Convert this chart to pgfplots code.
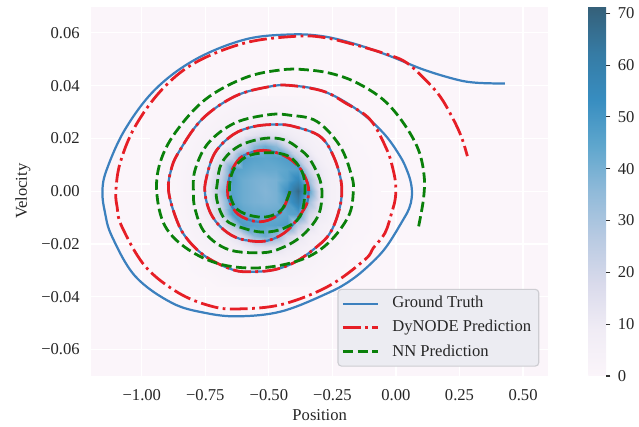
\documentclass[border=0pt]{standalone}
\usepackage{fontspec}
\setmainfont{Liberation Serif}
\usepackage{pgfplots}
\pgfplotsset{compat=1.18}
\definecolor{gtblue}{RGB}{60,128,190}
\definecolor{dyred}{RGB}{230,30,38}
\definecolor{nngreen}{RGB}{10,128,10}
\definecolor{plotbg}{RGB}{251,245,250}
\definecolor{legfill}{RGB}{236,236,242}
\definecolor{legdraw}{RGB}{205,205,210}
\newcommand{\fs}{\fontsize{12}{14}\selectfont}
\begin{document}
\begin{tikzpicture}
\useasboundingbox (-65.5bp,-36.7bp) rectangle (394.6bp,270.7bp);
\begin{axis}[
  at={(0,0)}, anchor=south west, scale only axis,
  width=329.4bp, height=266bp,
  xmin=-1.2, xmax=0.6, ymin=-0.07, ymax=0.07,
  scaled x ticks=false, scaled y ticks=false,
  axis background/.style={fill=plotbg},
  axis line style={draw=none},
  major tick length=0pt,
  grid=major,
  major grid style={draw=white, line width=0.8bp},
  xtick={-1,-0.75,-0.5,-0.25,0,0.25,0.5},
  xticklabels={−1.00,−0.75,−0.50,−0.25,0.00,0.25,0.50},
  ytick={-0.06,-0.04,-0.02,0,0.02,0.04,0.06},
  yticklabels={−0.06,−0.04,−0.02,0.00,0.02,0.04,0.06},
  tick label style={font=\fs, text=black!85},
  xticklabel style={yshift=-5.9bp},
  yticklabel style={xshift=-4.6bp},
  xlabel={Position}, ylabel={Velocity},
  label style={font=\fs, text=black!85},
  xlabel style={at={(axis description cs:0.5,-0.077)}, anchor=north},
  ylabel style={at={(axis description cs:-0.1214,0.5)}, anchor=south},
  colormap={pubu}{rgb255(0cm)=(251,245,250); rgb255(1cm)=(240,236,245); rgb255(2cm)=(217,218,235); rgb255(3cm)=(184,202,226); rgb255(4cm)=(144,186,217); rgb255(5cm)=(94,166,205); rgb255(6cm)=(55,141,192); rgb255(7cm)=(54,123,164); rgb255(8cm)=(53,96,121)},
  point meta min=0, point meta max=71.3,
  colorbar,
  colorbar style={
    at={(parent axis.south east)}, anchor=south west, xshift=20.3bp,
    width=12.7bp, height=266bp, scale only axis,
    axis line style={draw=none},
    grid=none,
    ytick={0,10,20,30,40,50,60,70},
    ytick pos=right, yticklabel pos=right,
    tick align=outside,
    major tick length=3bp,
    ytick style={color=black!80, line width=0.8bp},
    yticklabel style={font=\fs, text=black!85, xshift=1.9bp},
    /pgf/number format/assume math mode=true,
  },
  legend style={
    at={(0.980,0.0252)}, anchor=south east,
    draw=legdraw, fill=legfill, rounded corners=2.5bp, line width=0.8bp,
    font=\fs, text=black!85,
    inner xsep=2.5bp, inner ysep=1.6bp,
    row sep=0pt, column sep=6.6bp,
    nodes={inner xsep=3bp, inner ysep=3bp, text height=8.7bp, text depth=2.65bp},
  },
  legend cell align=left,
  legend image code/.code={\draw[#1] (0bp,0bp) -- (25bp,0bp);},
]
\addplot[surf, shader=interp, mesh/cols=17, point meta=explicit, forget plot] coordinates {
(-0.969,-0.036)[0] (-0.861,-0.036)[0] (-0.774,-0.036)[0] (-0.731,-0.036)[0] (-0.688,-0.036)[0.8] (-0.645,-0.036)[1.2] (-0.601,-0.036)[1.5] (-0.558,-0.036)[1.8] (-0.515,-0.036)[2] (-0.472,-0.036)[1.8] (-0.429,-0.036)[1.5] (-0.385,-0.036)[1.2] (-0.342,-0.036)[0.8] (-0.299,-0.036)[0] (-0.256,-0.036)[0] (-0.169,-0.036)[0] (-0.061,-0.036)[0]
(-0.969,-0.0297)[0] (-0.861,-0.0297)[0] (-0.774,-0.0297)[0.8] (-0.731,-0.0297)[1.5] (-0.688,-0.0297)[2.4] (-0.645,-0.0297)[3] (-0.601,-0.0297)[3.5] (-0.558,-0.0297)[3.9] (-0.515,-0.0297)[4] (-0.472,-0.0297)[3.9] (-0.429,-0.0297)[3.5] (-0.385,-0.0297)[3] (-0.342,-0.0297)[2.4] (-0.299,-0.0297)[1.5] (-0.256,-0.0297)[0.8] (-0.169,-0.0297)[0] (-0.061,-0.0297)[0]
(-0.969,-0.0254)[0] (-0.861,-0.0254)[0] (-0.774,-0.0254)[1.5] (-0.731,-0.0254)[2.5] (-0.688,-0.0254)[3.5] (-0.645,-0.0254)[4.5] (-0.601,-0.0254)[5.5] (-0.558,-0.0254)[6.5] (-0.515,-0.0254)[7] (-0.472,-0.0254)[6.5] (-0.429,-0.0254)[5.5] (-0.385,-0.0254)[4.5] (-0.342,-0.0254)[3.5] (-0.299,-0.0254)[2.5] (-0.256,-0.0254)[1.5] (-0.169,-0.0254)[0] (-0.061,-0.0254)[0]
(-0.969,-0.0212)[0] (-0.861,-0.0212)[0.3] (-0.774,-0.0212)[2.4] (-0.731,-0.0212)[3.6] (-0.688,-0.0212)[5] (-0.645,-0.0212)[7] (-0.601,-0.0212)[10] (-0.558,-0.0212)[14] (-0.515,-0.0212)[16] (-0.472,-0.0212)[14] (-0.429,-0.0212)[10] (-0.385,-0.0212)[7] (-0.342,-0.0212)[5] (-0.299,-0.0212)[3.6] (-0.256,-0.0212)[2.4] (-0.169,-0.0212)[0.3] (-0.061,-0.0212)[0]
(-0.969,-0.017)[0] (-0.861,-0.017)[0.8] (-0.774,-0.017)[3.3] (-0.731,-0.017)[4.8] (-0.688,-0.017)[7] (-0.645,-0.017)[12] (-0.601,-0.017)[20] (-0.558,-0.017)[36] (-0.515,-0.017)[42] (-0.472,-0.017)[36] (-0.429,-0.017)[20] (-0.385,-0.017)[12] (-0.342,-0.017)[7] (-0.299,-0.017)[4.8] (-0.256,-0.017)[3.3] (-0.169,-0.017)[0.8] (-0.061,-0.017)[0]
(-0.969,-0.0127)[0] (-0.861,-0.0127)[1.2] (-0.774,-0.0127)[3.9] (-0.731,-0.0127)[6] (-0.688,-0.0127)[14] (-0.645,-0.0127)[25] (-0.601,-0.0127)[48] (-0.558,-0.0127)[46] (-0.515,-0.0127)[45] (-0.472,-0.0127)[46] (-0.429,-0.0127)[48] (-0.385,-0.0127)[25] (-0.342,-0.0127)[14] (-0.299,-0.0127)[6] (-0.256,-0.0127)[3.9] (-0.169,-0.0127)[1.2] (-0.061,-0.0127)[0]
(-0.969,-0.0085)[0] (-0.861,-0.0085)[1.5] (-0.774,-0.0085)[4.5] (-0.731,-0.0085)[10] (-0.688,-0.0085)[20] (-0.645,-0.0085)[47] (-0.601,-0.0085)[45] (-0.558,-0.0085)[43] (-0.515,-0.0085)[43] (-0.472,-0.0085)[43] (-0.429,-0.0085)[45] (-0.385,-0.0085)[47] (-0.342,-0.0085)[20] (-0.299,-0.0085)[10] (-0.256,-0.0085)[4.5] (-0.169,-0.0085)[1.5] (-0.061,-0.0085)[0]
(-0.969,-0.0042)[0] (-0.861,-0.0042)[1.5] (-0.774,-0.0042)[5.1] (-0.731,-0.0042)[12] (-0.688,-0.0042)[25] (-0.645,-0.0042)[47] (-0.601,-0.0042)[42] (-0.558,-0.0042)[40] (-0.515,-0.0042)[39] (-0.472,-0.0042)[40] (-0.429,-0.0042)[48] (-0.385,-0.0042)[60] (-0.342,-0.0042)[32] (-0.299,-0.0042)[12] (-0.256,-0.0042)[5.1] (-0.169,-0.0042)[1.5] (-0.061,-0.0042)[0]
(-0.969,0)[0] (-0.861,0)[1.5] (-0.774,0)[5.2] (-0.731,0)[13] (-0.688,0)[31] (-0.645,0)[46] (-0.601,0)[42] (-0.558,0)[40] (-0.515,0)[38] (-0.472,0)[40] (-0.429,0)[52] (-0.385,0)[68] (-0.342,0)[45] (-0.299,0)[13] (-0.256,0)[5.2] (-0.169,0)[1.5] (-0.061,0)[0]
(-0.969,0.0042)[0] (-0.861,0.0042)[1.5] (-0.774,0.0042)[5.1] (-0.731,0.0042)[12] (-0.688,0.0042)[25] (-0.645,0.0042)[47] (-0.601,0.0042)[42] (-0.558,0.0042)[40] (-0.515,0.0042)[39] (-0.472,0.0042)[40] (-0.429,0.0042)[46] (-0.385,0.0042)[56] (-0.342,0.0042)[32] (-0.299,0.0042)[12] (-0.256,0.0042)[5.1] (-0.169,0.0042)[1.5] (-0.061,0.0042)[0]
(-0.969,0.0085)[0] (-0.861,0.0085)[1.5] (-0.774,0.0085)[4.5] (-0.731,0.0085)[10] (-0.688,0.0085)[20] (-0.645,0.0085)[47] (-0.601,0.0085)[45] (-0.558,0.0085)[43] (-0.515,0.0085)[43] (-0.472,0.0085)[43] (-0.429,0.0085)[45] (-0.385,0.0085)[47] (-0.342,0.0085)[20] (-0.299,0.0085)[10] (-0.256,0.0085)[4.5] (-0.169,0.0085)[1.5] (-0.061,0.0085)[0]
(-0.969,0.0127)[0] (-0.861,0.0127)[1.2] (-0.774,0.0127)[3.9] (-0.731,0.0127)[6] (-0.688,0.0127)[14] (-0.645,0.0127)[25] (-0.601,0.0127)[48] (-0.558,0.0127)[46] (-0.515,0.0127)[45] (-0.472,0.0127)[46] (-0.429,0.0127)[48] (-0.385,0.0127)[25] (-0.342,0.0127)[14] (-0.299,0.0127)[6] (-0.256,0.0127)[3.9] (-0.169,0.0127)[1.2] (-0.061,0.0127)[0]
(-0.969,0.017)[0] (-0.861,0.017)[0.8] (-0.774,0.017)[3.3] (-0.731,0.017)[4.8] (-0.688,0.017)[7] (-0.645,0.017)[12] (-0.601,0.017)[20] (-0.558,0.017)[36] (-0.515,0.017)[42] (-0.472,0.017)[36] (-0.429,0.017)[20] (-0.385,0.017)[12] (-0.342,0.017)[7] (-0.299,0.017)[4.8] (-0.256,0.017)[3.3] (-0.169,0.017)[0.8] (-0.061,0.017)[0]
(-0.969,0.0212)[0] (-0.861,0.0212)[0.3] (-0.774,0.0212)[2.4] (-0.731,0.0212)[3.6] (-0.688,0.0212)[5] (-0.645,0.0212)[7] (-0.601,0.0212)[10] (-0.558,0.0212)[14] (-0.515,0.0212)[16] (-0.472,0.0212)[14] (-0.429,0.0212)[10] (-0.385,0.0212)[7] (-0.342,0.0212)[5] (-0.299,0.0212)[3.6] (-0.256,0.0212)[2.4] (-0.169,0.0212)[0.3] (-0.061,0.0212)[0]
(-0.969,0.0254)[0] (-0.861,0.0254)[0] (-0.774,0.0254)[1.5] (-0.731,0.0254)[2.5] (-0.688,0.0254)[3.5] (-0.645,0.0254)[4.5] (-0.601,0.0254)[5.5] (-0.558,0.0254)[6.5] (-0.515,0.0254)[7] (-0.472,0.0254)[6.5] (-0.429,0.0254)[5.5] (-0.385,0.0254)[4.5] (-0.342,0.0254)[3.5] (-0.299,0.0254)[2.5] (-0.256,0.0254)[1.5] (-0.169,0.0254)[0] (-0.061,0.0254)[0]
(-0.969,0.0297)[0] (-0.861,0.0297)[0] (-0.774,0.0297)[0.8] (-0.731,0.0297)[1.5] (-0.688,0.0297)[2.4] (-0.645,0.0297)[3] (-0.601,0.0297)[3.5] (-0.558,0.0297)[3.9] (-0.515,0.0297)[4] (-0.472,0.0297)[3.9] (-0.429,0.0297)[3.5] (-0.385,0.0297)[3] (-0.342,0.0297)[2.4] (-0.299,0.0297)[1.5] (-0.256,0.0297)[0.8] (-0.169,0.0297)[0] (-0.061,0.0297)[0]
(-0.969,0.036)[0] (-0.861,0.036)[0] (-0.774,0.036)[0] (-0.731,0.036)[0] (-0.688,0.036)[0.8] (-0.645,0.036)[1.2] (-0.601,0.036)[1.5] (-0.558,0.036)[1.8] (-0.515,0.036)[2] (-0.472,0.036)[1.8] (-0.429,0.036)[1.5] (-0.385,0.036)[1.2] (-0.342,0.036)[0.8] (-0.299,0.036)[0] (-0.256,0.036)[0] (-0.169,0.036)[0] (-0.061,0.036)[0]
};
\addplot[gtblue, line width=1.6bp, smooth, tension=0.6] coordinates {
(-0.417,0.0000) (-0.445,-0.0068) (-0.490,-0.0105) (-0.550,-0.0115) (-0.620,-0.0088) (-0.658,-0.0030) (-0.660,0.0030) (-0.640,0.0090) (-0.600,0.0135) (-0.522,0.0155) (-0.440,0.0135) (-0.380,0.0090) (-0.348,0.0030) (-0.345,-0.0020) (-0.360,-0.0065) (-0.423,-0.0145) (-0.490,-0.0183) (-0.554,-0.0190) (-0.630,-0.0175) (-0.690,-0.0135) (-0.731,-0.0080) (-0.751,-0.0010) (-0.746,0.0050) (-0.712,0.0146) (-0.640,0.0215) (-0.560,0.0245) (-0.470,0.0253) (-0.400,0.0245) (-0.299,0.0208) (-0.246,0.0133) (-0.215,0.0032) (-0.220,-0.0057) (-0.259,-0.0158) (-0.325,-0.0221) (-0.400,-0.0270) (-0.476,-0.0297) (-0.560,-0.0305) (-0.640,-0.0298) (-0.751,-0.0246) (-0.830,-0.0170) (-0.870,-0.0090) (-0.895,0.0005) (-0.885,0.0080) (-0.856,0.0146) (-0.764,0.0272) (-0.633,0.0360) (-0.500,0.0396) (-0.417,0.0401) (-0.286,0.0379) (-0.154,0.0310) (-0.050,0.0221) (0.016,0.0133) (0.047,0.0070) (0.061,0.0020) (0.062,-0.0025) (0.052,-0.0065) (0.029,-0.0107) (-0.036,-0.0208) (-0.095,-0.0271) (-0.174,-0.0335) (-0.266,-0.0385) (-0.449,-0.0455) (-0.620,-0.0474) (-0.751,-0.0461) (-0.882,-0.0423) (-1.026,-0.0322) (-1.118,-0.0170) (-1.145,-0.0080) (-1.155,0.0000) (-1.138,0.0082) (-1.066,0.0234) (-0.948,0.0385) (-0.790,0.0499) (-0.594,0.0575) (-0.417,0.0594) (-0.286,0.0587) (-0.154,0.0556) (-0.023,0.0512) (0.108,0.0461) (0.239,0.0423) (0.318,0.0411) (0.429,0.0408)
};
\addlegendentry{Ground Truth}
\addplot[dyred, line width=2bp, smooth, tension=0.6, dash pattern=on 12.8bp off 3.2bp on 2bp off 3.2bp] coordinates {
(-0.417,0.0000) (-0.445,-0.0068) (-0.490,-0.0105) (-0.550,-0.0115) (-0.620,-0.0088) (-0.658,-0.0030) (-0.660,0.0030) (-0.640,0.0090) (-0.600,0.0135) (-0.522,0.0155) (-0.440,0.0135) (-0.380,0.0090) (-0.348,0.0030) (-0.345,-0.0020) (-0.360,-0.0065) (-0.423,-0.0145) (-0.490,-0.0183) (-0.554,-0.0190) (-0.630,-0.0175) (-0.690,-0.0135) (-0.731,-0.0080) (-0.751,-0.0010) (-0.746,0.0050) (-0.712,0.0146) (-0.640,0.0215) (-0.560,0.0245) (-0.470,0.0253) (-0.400,0.0245) (-0.299,0.0208) (-0.246,0.0133) (-0.215,0.0032) (-0.220,-0.0057) (-0.259,-0.0158) (-0.325,-0.0221) (-0.400,-0.0270) (-0.476,-0.0297) (-0.560,-0.0305) (-0.640,-0.0298) (-0.751,-0.0246) (-0.830,-0.0170) (-0.870,-0.0090) (-0.895,0.0005) (-0.885,0.0080) (-0.856,0.0146) (-0.764,0.0272) (-0.633,0.0360) (-0.500,0.0396) (-0.417,0.0401) (-0.286,0.0379) (-0.200,0.0335) (-0.102,0.0272) (-0.036,0.0158) (-0.012,0.0085) (-0.001,0.0025) (-0.003,-0.0030) (-0.017,-0.0082) (-0.043,-0.0158) (-0.089,-0.0215) (-0.122,-0.0259) (-0.266,-0.0360) (-0.449,-0.0429) (-0.620,-0.0446) (-0.725,-0.0436) (-0.856,-0.0385) (-0.987,-0.0284) (-1.079,-0.0133) (-1.097,-0.0060) (-1.102,0.0000) (-1.085,0.0108) (-1.026,0.0246) (-0.921,0.0385) (-0.790,0.0487) (-0.594,0.0562) (-0.397,0.0587) (-0.286,0.0583) (-0.154,0.0553) (-0.023,0.0515) (0.042,0.0487) (0.108,0.0430) (0.173,0.0360) (0.226,0.0272) (0.259,0.0202) (0.281,0.0133)
};
\addlegendentry{DyNODE Prediction}
\addplot[nngreen, line width=2bp, smooth, tension=0.6, dash pattern=on 7.4bp off 3.2bp] coordinates {
(-0.417,0.0000) (-0.449,-0.0069) (-0.508,-0.0097) (-0.580,-0.0090) (-0.633,-0.0060) (-0.655,0.0005) (-0.640,0.0080) (-0.590,0.0130) (-0.510,0.0146) (-0.423,0.0133) (-0.370,0.0075) (-0.358,0.0000) (-0.377,-0.0095) (-0.440,-0.0140) (-0.520,-0.0155) (-0.600,-0.0140) (-0.672,-0.0107) (-0.705,-0.0031) (-0.703,0.0030) (-0.685,0.0108) (-0.620,0.0170) (-0.520,0.0200) (-0.440,0.0195) (-0.380,0.0160) (-0.338,0.0120) (-0.298,0.0040) (-0.292,-0.0031) (-0.310,-0.0100) (-0.371,-0.0170) (-0.450,-0.0215) (-0.528,-0.0233) (-0.659,-0.0221) (-0.751,-0.0158) (-0.790,-0.0069) (-0.797,0.0000) (-0.790,0.0082) (-0.738,0.0183) (-0.633,0.0259) (-0.500,0.0290) (-0.417,0.0288) (-0.312,0.0265) (-0.220,0.0171) (-0.174,0.0057) (-0.168,-0.0006) (-0.187,-0.0095) (-0.266,-0.0196) (-0.371,-0.0259) (-0.528,-0.0290) (-0.685,-0.0278) (-0.817,-0.0221) (-0.908,-0.0133) (-0.941,-0.0006) (-0.928,0.0108) (-0.869,0.0221) (-0.751,0.0347) (-0.594,0.0430) (-0.450,0.0460) (-0.350,0.0460) (-0.250,0.0445) (-0.154,0.0411) (-0.050,0.0347) (0.029,0.0259) (0.088,0.0158) (0.111,0.0057) (0.108,-0.0031) (0.088,-0.0139)
};
\addlegendentry{NN Prediction}
\end{axis}
\end{tikzpicture}
\end{document}
